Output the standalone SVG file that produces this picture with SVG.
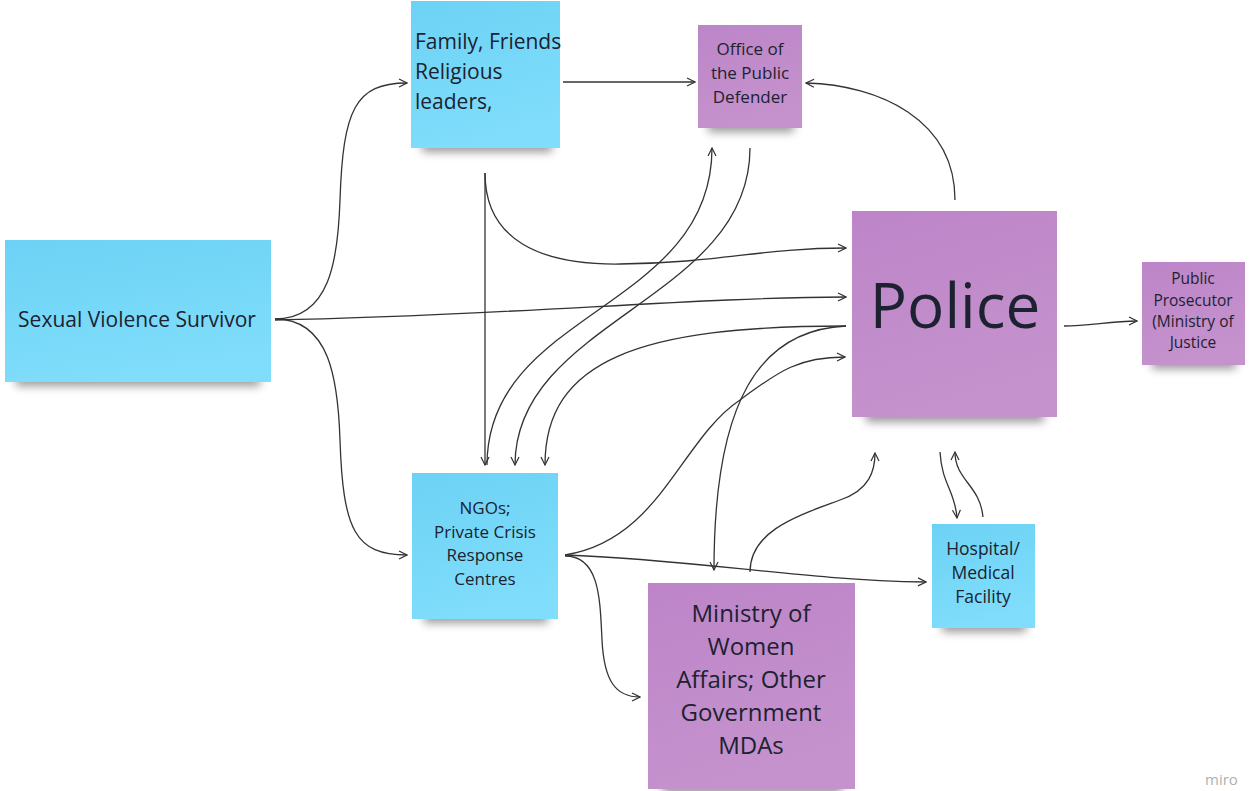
<svg xmlns="http://www.w3.org/2000/svg" width="1250" height="791" viewBox="0 0 1250 791">
<defs>
<linearGradient id="gBlue" x1="0" y1="0" x2="0.3" y2="1">
<stop offset="0" stop-color="#6cd2f5"/><stop offset="1" stop-color="#80ddfb"/>
</linearGradient>
<linearGradient id="gPurple" x1="0" y1="0" x2="0.3" y2="1">
<stop offset="0" stop-color="#bd85c8"/><stop offset="1" stop-color="#c592cd"/>
</linearGradient>
<filter id="blur" x="-20%" y="-100%" width="140%" height="300%"><feGaussianBlur stdDeviation="5"/></filter>
<marker id="arr" viewBox="0 0 10 10" refX="9" refY="5" markerWidth="10" markerHeight="10" markerUnits="userSpaceOnUse" orient="auto">
<path d="M1,1 L9,5 L1,9" fill="none" stroke="#333" stroke-width="1.2"/>
</marker>
<style>
.blue{fill:url(#gBlue)}
.purple{fill:url(#gPurple)}
.sh{fill:#000;opacity:0.4;filter:url(#blur)}
text{font-family:"Open Sans","Noto Sans","Liberation Sans",sans-serif;fill:#1c2230}
.c{text-anchor:middle}
.conn path{fill:none;stroke:#333;stroke-width:1.3}
.conn path.a{marker-end:url(#arr)}
</style>
</defs>
<rect width="1250" height="791" fill="#ffffff"/>

<g id="node-survivor">
<rect class="sh" x="16" y="372" width="244" height="14"/>
<rect class="blue" x="5" y="240" width="266" height="142"/>
<text class="c" x="137" y="327" font-size="21">Sexual Violence Survivor</text>
</g>

<g id="node-family">
<rect class="sh" x="422" y="138" width="130" height="14"/>
<rect class="blue" x="411" y="1" width="149" height="147"/>
<text x="415" y="49" font-size="21">Family, Friends</text>
<text x="415" y="79" font-size="21">Religious</text>
<text x="415" y="109" font-size="21">leaders,</text>
</g>

<g id="node-office">
<rect class="sh" x="708" y="118" width="86" height="14"/>
<rect class="purple" x="698" y="25" width="104" height="103"/>
<text class="c" x="750" y="55" font-size="17">Office of</text>
<text class="c" x="750" y="79" font-size="17">the Public</text>
<text class="c" x="750" y="103" font-size="17">Defender</text>
</g>

<g id="node-police">
<rect class="sh" x="866" y="406" width="178" height="16"/>
<rect class="purple" x="852" y="211" width="205" height="206"/>
<text class="c" x="955" y="328" font-size="62">Police</text>
</g>

<g id="node-prosecutor">
<rect class="sh" x="1152" y="355" width="84" height="14"/>
<rect class="purple" x="1142" y="262" width="103" height="103"/>
<text class="c" x="1193" y="284" font-size="15.5">Public</text>
<text class="c" x="1193" y="306" font-size="15.5">Prosecutor</text>
<text class="c" x="1193" y="327" font-size="15.5">(Ministry of</text>
<text class="c" x="1193" y="348" font-size="15.5">Justice</text>
</g>

<g id="node-ngos">
<rect class="sh" x="424" y="609" width="124" height="14"/>
<rect class="blue" x="412" y="473" width="146" height="146"/>
<text class="c" x="485" y="514" font-size="17">NGOs;</text>
<text class="c" x="485" y="537.5" font-size="17">Private Crisis</text>
<text class="c" x="485" y="561" font-size="17">Response</text>
<text class="c" x="485" y="584.5" font-size="17">Centres</text>
</g>

<g id="node-ministry">
<rect class="sh" x="662" y="780" width="180" height="14"/>
<rect class="purple" x="648" y="583" width="207" height="206"/>
<text class="c" x="751" y="622" font-size="24">Ministry of</text>
<text class="c" x="751" y="655" font-size="24">Women</text>
<text class="c" x="751" y="688" font-size="24">Affairs; Other</text>
<text class="c" x="751" y="721" font-size="24">Government</text>
<text class="c" x="751" y="754" font-size="24">MDAs</text>
</g>

<g id="node-hospital">
<rect class="sh" x="942" y="618" width="84" height="14"/>
<rect class="blue" x="932" y="524" width="103" height="104"/>
<text class="c" x="983" y="555" font-size="17.5">Hospital/</text>
<text class="c" x="983" y="579" font-size="17.5">Medical</text>
<text class="c" x="983" y="603" font-size="17.5">Facility</text>
</g>

<g id="connectors" class="conn">
<path class="a" d="M275,319 C330,319 338,260 340,200 C343,110 355,83 407,83"/>
<path class="a" d="M275,319 C330,319 338,380 340,440 C343,530 355,555 407,555"/>
<path class="a" d="M275,320 C500,316 700,297 846,297"/>
<path class="a" d="M563,82 L695,82"/>
<path class="a" d="M485,173 L485,465"/>
<path class="a" d="M485,173 C485,240 540,265 620,264 C720,263 760,248 846,248"/>
<path class="a" d="M487,465 C487,310 712,310 712,148"/>
<path class="a" d="M750,148 C750,300 515,320 515,465"/>
<path class="a" d="M846,326 C640,326 545,360 545,465"/>
<path class="a" d="M846,326 C760,330 714,400 714,570"/>
<path class="a" d="M565,555 C660,540 680,440 740,400 C780,370 800,357 845,357"/>
<path class="a" d="M565,555 C700,560 800,580 926,582"/>
<path class="a" d="M565,556 C600,556 600,600 602,640 C604,680 615,697 640,697"/>
<path class="a" d="M750,572 C750,530 800,515 840,500 C870,490 875,470 875,453"/>
<path class="a" d="M940,452 C942,485 955,490 957,518"/>
<path class="a" d="M983,517 C980,485 955,480 955,452"/>
<path class="a" d="M955,200 C955,120 880,85 806,83"/>
<path class="a" d="M1064,326 C1090,326 1110,321 1137,321"/>
</g>

<text x="1205" y="785" font-size="15" style="fill:#b0b0b0">miro</text>
</svg>
